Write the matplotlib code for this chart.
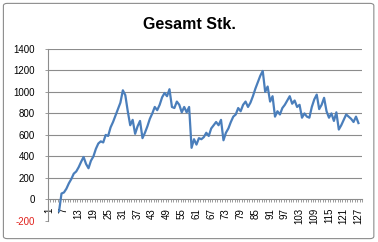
import numpy as np
import matplotlib
matplotlib.use("Agg")
import matplotlib.pyplot as plt
from matplotlib.patches import FancyBboxPatch

# Werte je Kategorie (1..127), die ersten 4 leer
categories = list(range(1, 128))
stueck = [
    None, None, None, None, -110,
    55, 65, 100, 150, 190, 240, 260, 300, 350, 395,
    330, 290, 360, 400, 470, 520, 540, 530, 600, 590,
    670, 720, 780, 840, 900, 1015, 970, 820, 690, 740,
    610, 680, 730, 570, 620, 680, 750, 800, 860, 830,
    880, 950, 990, 960, 1025, 860, 850, 910, 880, 810,
    860, 810, 860, 480, 560, 510, 570, 560, 580, 620,
    590, 660, 690, 720, 690, 740, 550, 620, 660, 720,
    770, 790, 850, 820, 880, 910, 860, 900, 960, 1030,
    1090, 1150, 1195, 1000, 1050, 910, 960, 770, 820, 790,
    850, 880, 920, 960, 890, 920, 860, 880, 760, 800,
    770, 760, 860, 930, 975, 840, 880, 945, 820, 760,
    800, 730, 810, 650, 690, 740, 790, 770, 750, 720,
    770, 710,
]
y_ticks = [-200, 0, 200, 400, 600, 800, 1000, 1200, 1400]
x_labels = list(range(1, 128, 6))

title = "Gesamt Stk."


def main():
    plt.rcParams["font.family"] = ["Liberation Sans", "DejaVu Sans"]
    fig = plt.figure(figsize=(3.78, 2.42), dpi=100)
    border = FancyBboxPatch((0.009, 0.014), 0.98, 0.972,
                            boxstyle="round,pad=0,rounding_size=0.01",
                            transform=fig.transFigure, facecolor="white",
                            edgecolor="#8c8c8c", linewidth=0.8, zorder=-5)
    fig.patches.append(border)
    ax = fig.add_axes([0.127, 0.087, 0.831, 0.711])
    ax.set_zorder(2)
    ax.set_facecolor("none")

    # spines first: set_position rebuilds the ticks
    for s in ["top", "right"]:
        ax.spines[s].set_visible(False)
    ax.spines["bottom"].set_position(("data", 0))
    ax.spines["bottom"].set_color("#8c8c8c")
    ax.spines["left"].set_color("#8c8c8c")
    ax.spines["bottom"].set_linewidth(0.8)
    ax.spines["left"].set_linewidth(0.8)

    vals = np.array([np.nan if v is None else v for v in stueck], dtype=float)
    ax.plot(categories, vals, color="#4a7ebb", linewidth=1.6, zorder=3)

    ax.set_xlim(0.5, 128.5)
    ax.set_ylim(-200, 1400)
    ax.set_yticks(y_ticks)
    ax.set_xticks(x_labels)
    ax.set_xticks(np.arange(0.5, 129, 1), minor=True)
    ax.tick_params(axis="x", which="major", length=0, pad=6)
    ax.tick_params(axis="x", which="minor", length=2.5, color="#8c8c8c", width=0.6)
    ax.tick_params(axis="y", length=2.5, color="#8c8c8c", width=0.6, pad=7)

    ax.set_yticklabels([str(v) for v in y_ticks], fontsize=7)
    ax.get_yticklabels()[0].set_color("#e0201b")
    ax.set_xticklabels([str(v) for v in x_labels], fontsize=7, rotation=90,
                       rotation_mode="anchor", ha="right", va="center")

    for v in y_ticks[2:]:
        ax.axhline(v, color="#8c8c8c", linewidth=0.8, zorder=1)

    fig.text(0.5, 0.9, title, ha="center", va="center", fontsize=11.5,
             fontweight="bold")

    fig.savefig("out.png", dpi=100)


if __name__ == "__main__":
    main()
